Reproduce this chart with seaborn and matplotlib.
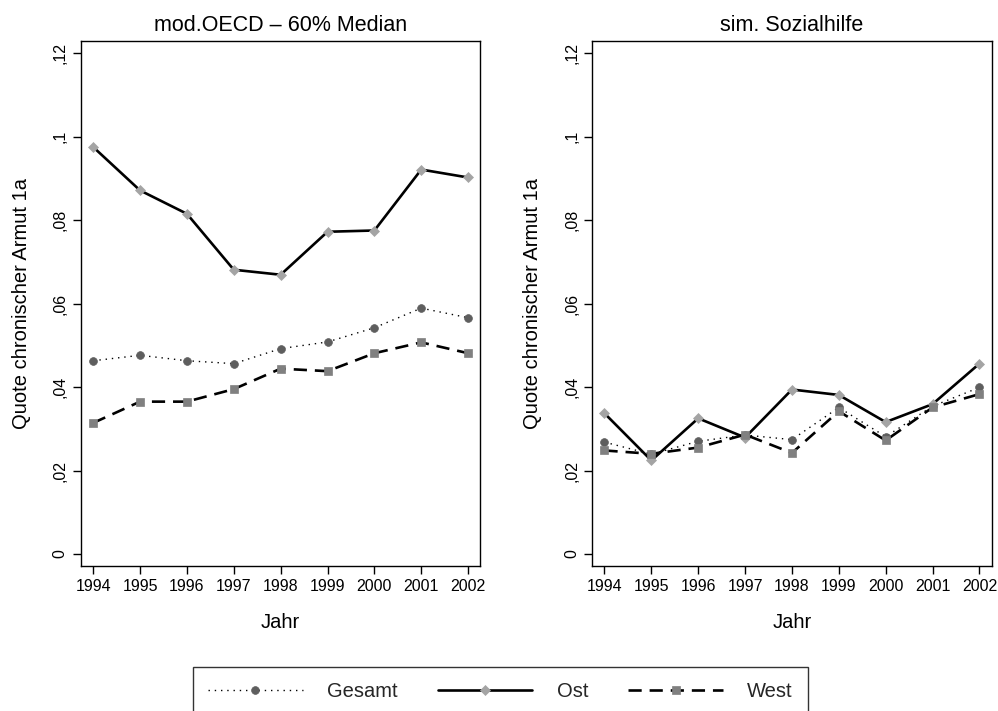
import matplotlib
matplotlib.use("Agg")
import matplotlib.pyplot as plt
import seaborn as sns
import pandas as pd

# Years of observation
years = [1994, 1995, 1996, 1997, 1998, 1999, 2000, 2001, 2002]

# Rate of chronic poverty, modified OECD scale, 60% of median
gesamt_oecd = [0.0463, 0.0476, 0.0463, 0.0456, 0.0492, 0.0508, 0.0542, 0.0589, 0.0566]
ost_oecd = [0.0975, 0.0871, 0.0815, 0.0681, 0.0669, 0.0772, 0.0775, 0.0921, 0.0902]
west_oecd = [0.0314, 0.0365, 0.0365, 0.0395, 0.0444, 0.0438, 0.0481, 0.0507, 0.0481]

# Rate of chronic poverty, simulated social assistance threshold
gesamt_sh = [0.0268, 0.0239, 0.0270, 0.0285, 0.0274, 0.0351, 0.0281, 0.0354, 0.0399]
ost_sh = [0.0337, 0.0224, 0.0325, 0.0279, 0.0394, 0.0381, 0.0316, 0.0359, 0.0456]
west_sh = [0.0248, 0.0240, 0.0255, 0.0286, 0.0242, 0.0342, 0.0272, 0.0351, 0.0383]

groups = ["Gesamt", "Ost", "West"]
panel_titles = ["mod.OECD \u2013 60% Median", "sim. Sozialhilfe"]
y_ticks = [0, 0.02, 0.04, 0.06, 0.08, 0.10, 0.12]
y_tick_labels = ["0", ",02", ",04", ",06", ",08", ",1", ",12"]

sns.set_theme(style="ticks")
plt.rcParams["font.family"] = ["Liberation Sans", "DejaVu Sans"]
plt.rcParams["axes.edgecolor"] = "black"
plt.rcParams["axes.linewidth"] = 1.0

# Line and marker style for each group
styles = {
    "Gesamt": dict(linestyle=(0, (1, 3.5)), linewidth=1.0, marker="o",
                   markersize=5.6, mfc="#5e5e5e", mec="#5e5e5e"),
    "Ost": dict(linestyle="-", linewidth=1.9, marker="D",
                markersize=5.2, mfc="#a4a4a4", mec="#a4a4a4"),
    "West": dict(linestyle=(0, (5, 3)), linewidth=1.9, marker="s",
                 markersize=5.4, mfc="#808080", mec="#808080"),
}

panels = [
    pd.DataFrame({"Jahr": years * 3,
                  "Quote": gesamt_oecd + ost_oecd + west_oecd,
                  "Gruppe": [g for g in groups for _ in years]}),
    pd.DataFrame({"Jahr": years * 3,
                  "Quote": gesamt_sh + ost_sh + west_sh,
                  "Gruppe": [g for g in groups for _ in years]}),
]

fig = plt.figure(figsize=(9.98, 7.11), dpi=100)
W, H = 998, 711
ax_left_px = [81, 592.3]
ax_w_px = 399.3
ax_top_px, ax_bot_px = 41, 566.3

handles = []
for i, df in enumerate(panels):
    ax = fig.add_axes([ax_left_px[i] / W, 1 - ax_bot_px / H,
                       ax_w_px / W, (ax_bot_px - ax_top_px) / H])
    for g in groups:
        st = styles[g]
        sub = df[df["Gruppe"] == g]
        sns.lineplot(data=sub, x="Jahr", y="Quote", ax=ax, color="black",
                     errorbar=None, legend=False, linestyle=st["linestyle"],
                     linewidth=st["linewidth"], marker=st["marker"],
                     markersize=st["markersize"], markerfacecolor=st["mfc"],
                     markeredgecolor=st["mec"], markeredgewidth=0.5)
        line = ax.lines[-1]
        line.set_label(g)
        if i == 0:
            handles.append(line)

    ax.set_xlim(1993.74, 2002.26)
    ax.set_ylim(-0.00295, 0.1229)
    ax.set_xticks(years)
    ax.set_xticklabels([str(y) for y in years], fontsize=11.5)
    ax.set_yticks(y_ticks)
    ax.set_yticklabels(y_tick_labels, fontsize=11.5, rotation=90, va="center")
    ax.tick_params(axis="both", direction="out", length=5.5, width=1.0,
                   color="black", labelcolor="black")
    ax.tick_params(axis="y", pad=4)
    ax.tick_params(axis="x", pad=3.5)
    for sp in ax.spines.values():
        sp.set_visible(True)
        sp.set_color("black")
        sp.set_linewidth(1.0)
    ax.set_facecolor("white")
    ax.grid(False)

    ax.set_title(panel_titles[i], fontsize=15.5, pad=7, color="black")
    ax.set_xlabel("Jahr", fontsize=14.5, color="black")
    ax.set_ylabel("Quote chronischer Armut 1a", fontsize=14.5, color="black")
    ax.xaxis.set_label_coords(0.5, -0.088)
    ax.yaxis.set_label_coords(-0.125, 0.5)

leg = fig.legend(handles=handles, labels=groups, loc="upper center",
                 bbox_to_anchor=(500.5 / W, 1 - 667 / H), ncol=3,
                 fontsize=14.5, frameon=True, fancybox=False, shadow=False,
                 handlelength=4.7, handletextpad=1.2, columnspacing=2.0,
                 borderpad=0.75, numpoints=1, borderaxespad=0)
leg.get_frame().set_edgecolor("black")
leg.get_frame().set_linewidth(1.0)
leg.get_frame().set_facecolor("white")

fig.savefig("out.png", dpi=100, facecolor="white")
